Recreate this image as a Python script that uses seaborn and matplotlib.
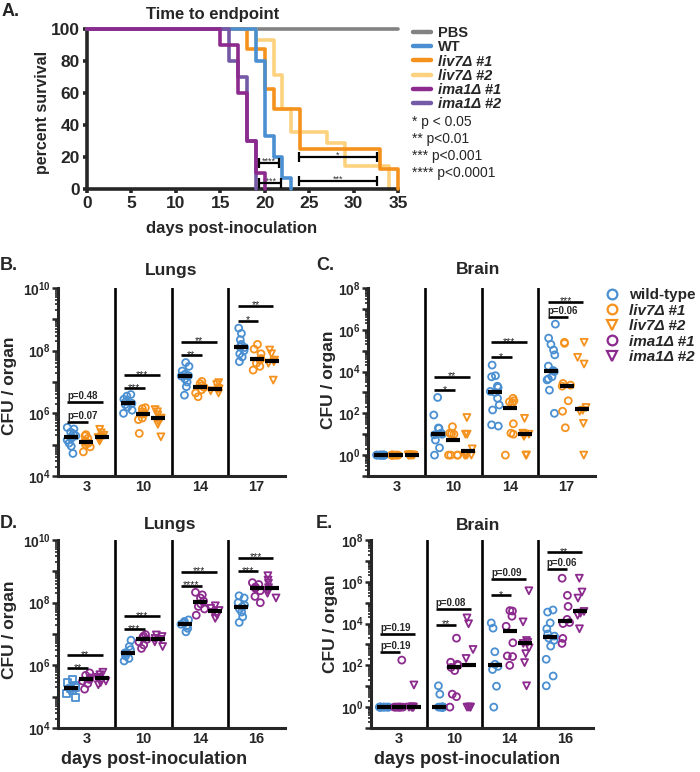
import numpy as np
import pandas as pd
import matplotlib
matplotlib.use("Agg")
import matplotlib.pyplot as plt
from matplotlib.lines import Line2D
from matplotlib.ticker import LogLocator, NullFormatter
import seaborn as sns

sns.set_style("ticks")
plt.rcParams["font.family"] = ["Liberation Sans", "DejaVu Sans"]
plt.rcParams["mathtext.fontset"] = "custom"
plt.rcParams["mathtext.rm"] = "Liberation Sans"
plt.rcParams["mathtext.bf"] = "Liberation Sans:bold"
np.random.seed(7)  # jitter of the dot columns only

GRAY = "#828282"
BLUE = "#4A8FD1"
ORANGE = "#F5921E"
LIGHT_ORANGE = "#FDD27E"
PURPLE = "#8C2A8E"
LIGHT_PURPLE = "#7459A6"

# ---------------- A: survival (day of each drop, % surviving afterwards)
pbs_days, pbs_surv = [0, 35], [100, 100]
wt_days, wt_surv = [0, 19, 20, 21, 22, 23], [100, 80, 33.3, 20, 6.7, 0]
liv7_1_days, liv7_1_surv = [0, 18, 20, 21, 24, 33, 35], [100, 87.5, 62.5, 50, 25, 12.5, 0]
liv7_2_days, liv7_2_surv = [0, 19, 21, 22, 23, 27, 29, 34], [100, 92.9, 71.4, 50, 35.7, 28.6, 14.3, 0]
ima1_1_days, ima1_1_surv = [0, 15, 17, 18, 19, 20], [100, 90, 60, 30, 10, 0]
ima1_2_days, ima1_2_surv = [0, 16, 17, 18, 19], [100, 80, 70, 30, 0]

# comparison bars in A: (from day, to day, height %, label)
a_brackets = [(19.4, 21.6, 16, "****"), (19.4, 21.8, 3.5, "****"),
              (23.9, 32.6, 19.8, "*"), (23.9, 32.6, 5.2, "***")]
sig_notes = ["* p < 0.05", "** p<0.01", "*** p<0.001", "**** p<0.0001"]

# ---------------- B-E: log10 CFU per organ (0 = plotted at 10^0)
days_liv = ["3", "10", "14", "17"]
days_ima = ["3", "10", "14", "16"]

lung_liv = {
    "wild-type": [[5.55, 5.5, 5.4, 5.35, 5.28, 5.25, 5.2, 5.15, 5.05, 4.95, 4.72],
                  [6.6, 6.55, 6.45, 6.38, 6.32, 6.28, 6.2, 6.1, 6.0],
                  [7.62, 7.5, 7.35, 7.25, 7.2, 7.19, 7.1, 7.0, 6.85, 6.58],
                  [8.72, 8.55, 8.35, 8.2, 8.12, 8.1, 8.0, 7.9, 7.8, 7.65]],
    "liv7Δ #1": [[5.32, 5.28, 5.2, 5.12, 5.07, 5.05, 5.0, 4.93, 4.77],
                 [6.18, 6.15, 6.05, 6.0, 5.98, 5.85, 5.8, 5.36],
                 [7.02, 6.95, 6.88, 6.83, 6.75, 6.65, 6.53],
                 [8.2, 8.05, 7.9, 7.75, 7.7, 7.6, 7.5, 7.38]],
    "liv7Δ #2": [[5.49, 5.38, 5.3, 5.25, 5.23, 5.2, 5.15, 5.12],
                 [6.12, 6.05, 5.95, 5.85, 5.84, 5.75, 5.65, 5.25],
                 [6.98, 6.92, 6.8, 6.78, 6.72, 6.65],
                 [8.02, 7.9, 7.7, 7.65, 7.6, 7.06]],
}
brain_liv = {
    "wild-type": [[0] * 10,
                  [2.76, 1.92, 1.3, 1.28, 1.05, 1.0, 0.97, 0.72, 0.35, 0],
                  [4.31, 3.8, 3.75, 3.3, 3.24, 3.05, 3.0, 2.72, 2.4, 2.16, 1.45, 1.39],
                  [6.27, 5.6, 5.3, 5.03, 4.8, 4.26, 4.05, 4.0, 3.75, 3.65, 3.6, 3.11, 2.0]],
    "liv7Δ #1": [[0] * 8,
                 [1.36, 1.05, 1.02, 1.0, 0, 0, 0, 0],
                 [2.72, 2.6, 2.55, 2.5, 1.5, 1.05, 1.0, 0],
                 [5.4, 5.35, 3.43, 3.35, 3.3, 2.6, 2.1, 1.31]],
    "liv7Δ #2": [[0] * 8,
                 [1.8, 1.0, 1.0, 0.3, 0, 0, 0, 0],
                 [1.76, 1.05, 1.0, 1.0, 0.9, 0, 0],
                 [5.4, 4.68, 4.36, 2.28, 2.15, 2.1, 1.52, 0]],
}
lung_ima = {
    "wild-type": [[5.55, 5.45, 5.35, 5.3, 5.27, 5.2, 5.1, 4.98],
                  [6.8, 6.6, 6.5, 6.4, 6.38, 6.3, 6.22, 6.14],
                  [7.45, 7.4, 7.35, 7.31, 7.25, 7.18, 7.07],
                  [8.22, 8.15, 8.0, 7.92, 7.87, 7.8, 7.7, 7.55, 7.37]],
    "ima1Δ #1": [[5.76, 5.68, 5.6, 5.55, 5.5, 5.42, 5.24],
                 [6.98, 6.93, 6.88, 6.83, 6.75, 6.65, 6.54],
                 [8.33, 8.25, 8.15, 8.05, 7.96, 7.88, 7.8, 7.6],
                 [8.64, 8.58, 8.5, 8.46, 8.38, 8.2, 8.0]],
    "ima1Δ #2": [[5.78, 5.7, 5.62, 5.58, 5.5, 5.45, 5.38],
                 [6.97, 6.92, 6.86, 6.83, 6.75, 6.6],
                 [7.9, 7.82, 7.75, 7.69, 7.6, 7.5],
                 [8.86, 8.72, 8.62, 8.48, 8.4, 8.3, 8.15]],
}
brain_ima = {
    "wild-type": [[0] * 10,
                  [1.02, 0.62, 0, 0, 0, 0, 0, 0, 0, 0],
                  [4.03, 3.78, 2.65, 2.05, 1.95, 1.8, 1.0, 0],
                  [4.65, 4.55, 4.03, 3.75, 3.5, 3.4, 3.3, 3.2, 2.92, 2.29, 1.49, 1.02]],
    "ima1Δ #1": [[2.25, 0, 0, 0, 0, 0, 0, 0],
                 [3.3, 2.15, 2.05, 2.0, 1.9, 1.75, 0.62, 0.5, 0],
                 [4.62, 4.6, 4.35, 3.87, 3.08, 2.45, 2.42, 2.0],
                 [6.17, 5.35, 4.82, 4.2, 4.05, 4.0, 3.29, 3.05]],
    "ima1Δ #2": [[1.06, 0, 0, 0, 0, 0, 0],
                 [4.27, 3.99, 2.76, 2.33, 0, 0, 0, 0],
                 [5.57, 4.08, 3.19, 3.1, 3.05, 2.84, 2.56, 2.13, 1.02],
                 [6.17, 5.51, 5.22, 4.58, 4.5, 4.4, 3.75]],
}

# comparison bars: (day index, compared strain index, log10 height, label)
brk_b = [(0, 1, 5.73, "p=0.07"), (0, 2, 6.35, "p=0.48"), (1, 1, 6.8, "***"), (1, 2, 7.22, "***"),
         (2, 1, 7.86, "**"), (2, 2, 8.29, "**"), (3, 1, 8.96, "*"), (3, 2, 9.44, "**")]
brk_c = [(1, 1, 3.11, "*"), (1, 2, 3.75, "**"), (2, 1, 4.68, "*"), (2, 2, 5.4, "***"),
         (3, 1, 6.6, "p=0.06"), (3, 2, 7.35, "***")]
brk_d = [(0, 1, 5.9, "**"), (0, 2, 6.33, "**"), (1, 1, 7.15, "***"), (1, 2, 7.57, "***"),
         (2, 1, 8.54, "****"), (2, 2, 8.99, "***"), (3, 1, 9.01, "***"), (3, 2, 9.44, "***")]
brk_e = [(0, 1, 2.65, "p=0.19"), (0, 2, 3.52, "p=0.19"), (1, 1, 3.95, "**"), (1, 2, 4.71, "p=0.08"),
         (2, 1, 5.35, "*"), (2, 2, 6.13, "p=0.09"), (3, 1, 6.62, "p=0.06"), (3, 2, 7.41, "**")]

palette = {"wild-type": BLUE, "liv7Δ #1": ORANGE, "liv7Δ #2": ORANGE,
           "ima1Δ #1": PURPLE, "ima1Δ #2": PURPLE}
shapes = {"wild-type": "o", "liv7Δ #1": "o", "liv7Δ #2": "v", "ima1Δ #1": "o", "ima1Δ #2": "v"}

W, H = 700, 772
fig = plt.figure(figsize=(W / 100, H / 100), dpi=100)


def box(l, t, r, b):
    return [l / W, 1 - b / H, (r - l) / W, (b - t) / H]


def ftext(x, y, s, ha="center", va="center", **kw):
    fig.text(x / W, 1 - y / H, s, ha=ha, va=va, **kw)


# ---------------- panel A
axA = fig.add_axes(box(87, 29, 398, 189))
curves = [("PBS", pbs_days, pbs_surv, GRAY, 1),
          ("WT", wt_days, wt_surv, BLUE, 4),
          ("liv7Δ #1", liv7_1_days, liv7_1_surv, ORANGE, 3),
          ("liv7Δ #2", liv7_2_days, liv7_2_surv, LIGHT_ORANGE, 2),
          ("ima1Δ #1", ima1_1_days, ima1_1_surv, PURPLE, 6),
          ("ima1Δ #2", ima1_2_days, ima1_2_surv, LIGHT_PURPLE, 5)]
for name, t, s, c, z in curves:
    sns.lineplot(x=t, y=s, drawstyle="steps-post", color=c, linewidth=2.6, errorbar=None,
                 label=name, zorder=z, clip_on=False, ax=axA)

for x0, x1, y, txt in a_brackets:
    axA.plot([x0, x1], [y, y], color="black", lw=1.6, marker="|", markersize=7,
             markeredgewidth=1.6, zorder=7)
    axA.annotate(txt, ((x0 + x1) / 2, y), xytext=(0, -0.5), textcoords="offset points",
                 ha="center", va="baseline", fontsize=6.5, color="#333333")

axA.set_xlim(0, 35)
axA.set_ylim(0, 100)
axA.set_xticks(range(0, 36, 5))
axA.set_yticks(range(0, 101, 20))
axA.set_xlabel("")
axA.set_ylabel("")
sns.despine(ax=axA)
for sp in ("left", "bottom"):
    axA.spines[sp].set_linewidth(2.6)
axA.tick_params(length=3, width=2.6, pad=2, labelsize=12.5)
plt.setp(axA.get_xticklabels() + axA.get_yticklabels(), fontweight="bold")

handles, labels = axA.get_legend_handles_labels()
legA = axA.legend(handles, labels, loc="upper left", bbox_to_anchor=(413 / W, 1 - 26 / H),
                  bbox_transform=fig.transFigure, frameon=False, fontsize=10.5,
                  handlelength=1.25, handletextpad=0.45, labelspacing=0.02,
                  borderpad=0, borderaxespad=0)
for line in legA.get_lines():
    line.set_linewidth(3.2)
for txt in legA.get_texts():
    txt.set_fontweight("bold")
    if "Δ" in txt.get_text():
        txt.set_fontstyle("italic")

for i, s in enumerate(sig_notes):
    ftext(412, 122 + 17 * i, s, ha="left", fontsize=10)

ftext(213, 15, "Time to endpoint", fontsize=12, fontweight="bold")
ftext(43, 112, "percent survival", rotation=90, fontsize=11.5, fontweight="bold")
ftext(232, 228, "days post-inoculation", fontsize=12, fontweight="bold")


# ---------------- panels B-E
def dot_panel(rect, days, data, ylim_exp, brackets, square_day=None):
    ax = fig.add_axes(box(*rect))
    strains = list(data)
    rows = []
    for strain, per_day in data.items():
        for day, logs in zip(days, per_day):
            shape = shapes[strain]
            if square_day is not None and strain == strains[0] and day == square_day:
                shape = "s"
            for v in logs:
                rows.append((day, strain, shape, 10.0 ** v))
    df = pd.DataFrame(rows, columns=["day", "strain", "shape", "cfu"])

    for i in range(1, len(days)):
        ax.axvline(i - 0.5, color="black", lw=1.9, zorder=1)

    for (strain, shape), sub in df.groupby(["strain", "shape"], sort=False):
        n0 = len(ax.collections)
        sns.stripplot(data=sub, x="day", y="cfu", hue="strain", order=days, hue_order=strains,
                      palette=palette, dodge=True, jitter=0.25, marker=shape, size=5,
                      linewidth=1.3, log_scale=True, legend=False, ax=ax, zorder=3)
        for coll in ax.collections[n0:]:
            coll.set_edgecolor(coll.get_facecolor())
            coll.set_facecolor("none")

    med = df.groupby(["day", "strain"], sort=False)["cfu"].median().reset_index()
    n = len(strains)
    sns.pointplot(data=med, x="day", y="cfu", hue="strain", order=days, hue_order=strains,
                  palette={s: "black" for s in strains}, dodge=0.8 - 0.8 / n, markers="_",
                  linestyles="none", markersize=10, markeredgewidth=3, errorbar=None,
                  log_scale=True, legend=False, ax=ax, zorder=5)

    offs = np.linspace(-0.4 + 0.4 / n, 0.4 - 0.4 / n, n)
    for di, hi, ylog, txt in brackets:
        x0 = di + offs[0] - 0.07
        x1 = di + offs[hi] + 0.03
        y = 10.0 ** ylog
        ax.plot([x0, x1], [y, y], color="black", lw=1.9, solid_capstyle="butt", zorder=4)
        if txt.startswith("p"):
            ax.annotate(txt, (x0, y), xytext=(0, 2.2), textcoords="offset points",
                        ha="left", va="baseline", fontsize=7, fontweight="bold")
        else:
            ax.annotate(txt, ((x0 + x1) / 2, y), xytext=(0, -2), textcoords="offset points",
                        ha="center", va="baseline", fontsize=7.5, color="#222222")

    lo, hi_e = ylim_exp
    ax.set_xlim(-0.5, len(days) - 0.5)
    ax.set_ylim(10.0 ** lo, 10.0 ** hi_e)
    exps = list(range(lo, hi_e + 1))
    ax.set_yticks([10.0 ** e for e in exps])
    ax.set_yticklabels([rf"$\mathbf{{10^{{{e}}}}}$" if e % 2 == 0 and e >= 0 else "" for e in exps])
    ax.yaxis.set_minor_locator(LogLocator(base=10, subs=np.arange(2, 10), numticks=60))
    ax.yaxis.set_minor_formatter(NullFormatter())
    ax.set_xlabel("")
    ax.set_ylabel("")
    sns.despine(ax=ax)
    for sp in ("left", "bottom"):
        ax.spines[sp].set_linewidth(2.2)
    ax.tick_params(axis="y", which="major", length=4, width=1.8, labelsize=10, pad=1)
    ax.tick_params(axis="y", which="minor", length=2.5, width=1.2)
    ax.tick_params(axis="x", length=0, labelsize=10.5, pad=3)
    plt.setp(ax.get_xticklabels(), fontweight="bold")
    return ax


dot_panel((58, 288, 285, 476), days_liv, lung_liv, (4, 10), brk_b)
dot_panel((368, 288, 595, 476), days_liv, brain_liv, (-1, 8), brk_c)
dot_panel((58, 540, 285, 728), days_ima, lung_ima, (4, 10), brk_d, square_day="3")
dot_panel((371, 540, 593, 728), days_ima, brain_ima, (-1, 8), brk_e)

# legend for dot panels
legend_names = ["wild-type", "liv7Δ #1", "liv7Δ #2", "ima1Δ #1", "ima1Δ #2"]
legend_handles = [Line2D([], [], ls="none", marker=shapes[s], ms=7, mfc="none",
                         mec=palette[s], mew=1.6) for s in legend_names]
legC = fig.legend(legend_handles, legend_names, loc="upper left",
                  bbox_to_anchor=(606 / W, 1 - 288 / H), frameon=False, fontsize=11,
                  handlelength=0.8, handletextpad=0.7, labelspacing=0.1,
                  borderpad=0, borderaxespad=0)
for txt in legC.get_texts():
    txt.set_fontweight("bold")
    if "Δ" in txt.get_text():
        txt.set_fontstyle("italic")

# titles, axis labels, panel letters
ftext(171, 270, "Lungs", fontsize=12.5, fontweight="bold")
ftext(478, 270, "Brain", fontsize=12.5, fontweight="bold")
ftext(170, 525, "Lungs", fontsize=12.5, fontweight="bold")
ftext(478, 525, "Brain", fontsize=12.5, fontweight="bold")
for x, y in [(10, 386), (328, 380), (10, 630), (330, 624)]:
    ftext(x, y, "CFU / organ", rotation=90, fontsize=12.5, fontweight="bold")
ftext(154, 760, "days post-inoculation", fontsize=13, fontweight="bold")
ftext(467, 760, "days post-inoculation", fontsize=13, fontweight="bold")
for x, y, s in [(2, 11, "A."), (0, 265, "B."), (316, 265, "C."), (0, 523, "D."), (316, 523, "E.")]:
    ftext(x, y, s, ha="left", fontsize=13, fontweight="bold")

fig.savefig("out.png", dpi=100)
